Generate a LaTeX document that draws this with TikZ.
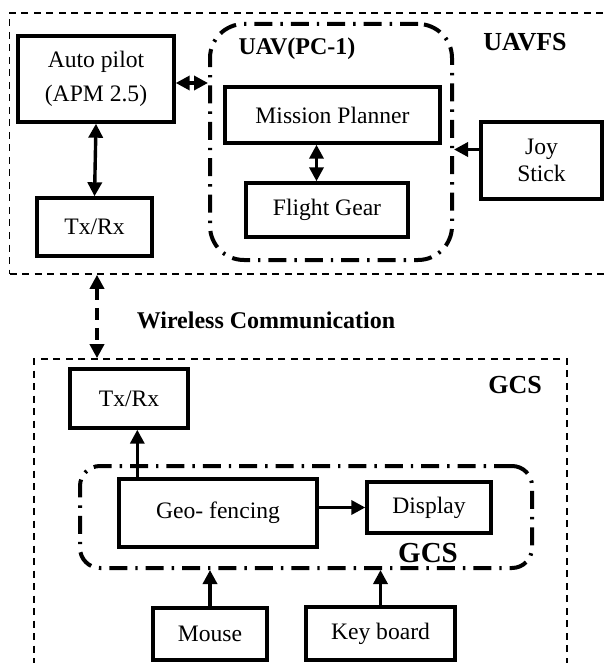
\documentclass[tikz,border=0pt]{standalone}
\usepackage{fontspec}
\setmainfont{Liberation Serif}
\usetikzlibrary{arrows.meta, positioning}

\begin{document}
\begin{tikzpicture}[
        x=0.5pt, y=-0.5pt,
        block/.style={rectangle, draw, line width=1.7pt, align=center, inner sep=0pt, font=\fontsize{11.8}{14}\selectfont},
        zone/.style={rectangle, draw, line width=0.8pt, dash pattern=on 3.5pt off 2.75pt, inner sep=0pt},
        unit/.style={rectangle, draw, line width=2pt, dash pattern=on 9pt off 4pt on 1.2pt off 4pt, inner sep=0pt},
        title/.style={font=\bfseries\fontsize{12}{14}\selectfont},
        arrow/.style={-{Triangle[length=7pt, width=7pt]}, line width=1.7pt},
        dblarrow/.style={{Triangle[length=7pt, width=7pt]}-{Triangle[length=7pt, width=7pt]}, line width=1.7pt}
    ]
        \clip (0,0) rectangle (606,663);

        % UAVFS side
        \node[zone, minimum width=305pt, minimum height=130.5pt] (uavfs) at (314.5,143.5) {};
        \node[title, font=\bfseries\fontsize{13}{15}\selectfont] (uavfslabel) at (525,42) {UAVFS};

        \node[block, minimum width=78pt, minimum height=43pt, font=\fontsize{11.8}{17}\selectfont] (pilot) at (96,79) {Auto pilot\\(APM 2.5)};
        \node[block, minimum width=57.5pt, minimum height=29pt] (txrx1) at (94.5,227) {Tx/Rx};

        \node[unit, rounded corners=17pt, minimum width=121pt, minimum height=118pt] (pc) at (331,142) {};
        \node[title] (pclabel) at (297,49) {UAV(PC-1)};
        \node[block, minimum width=107.5pt, minimum height=28pt] (planner) at (332.5,115) {Mission Planner};
        \node[block, minimum width=81pt, minimum height=27pt] (fgear) at (327,210) {Flight Gear};

        \node[block, minimum width=60.5pt, minimum height=38.5pt, font=\fontsize{11.8}{13.5}\selectfont] (joy) at (541.5,160.5) {Joy\\Stick};

        \draw[dblarrow] (pilot.south) -- (txrx1.north);
        \draw[dblarrow] ([yshift=-2pt]pilot.east) -- ([yshift=-2pt]pilot.east -| pc.west);
        \draw[dblarrow] ([xshift=-8pt]planner.south) -- ([xshift=-8pt]planner.south |- fgear.north);
        \draw[arrow] ([yshift=5.5pt]joy.west) -- ([yshift=5.5pt]joy.west -| pc.east);

        % Link
        \coordinate (wl) at (97,0);
        \node[title] (wireless) at (266,320) {Wireless Communication};

        % GCS side
        \node[zone, minimum width=266.5pt, minimum height=180pt] (gcs) at (300.5,539) {};
        \node[title, font=\bfseries\fontsize{13}{15}\selectfont] (gcslabel) at (515,385) {GCS};

        \draw[dblarrow, dash pattern=on 6pt off 4pt] (wl |- uavfs.south) -- (wl |- gcs.north);

        \node[block, minimum width=59pt, minimum height=29.5pt] (txrx2) at (129,398.5) {Tx/Rx};

        \node[unit, rounded corners=10pt, minimum width=226pt, minimum height=51pt] (station) at (306,517) {};
        \node[block, minimum width=99pt, minimum height=34pt] (geo) at (218,513) {Geo- fencing};
        \node[block, minimum width=62pt, minimum height=25.5pt] (disp) at (429,507.5) {Display};
        \node[title, font=\bfseries\fontsize{14.5}{16}\selectfont] (stationlabel) at (428,553) {GCS};

        \node[block, minimum width=57pt, minimum height=26pt] (mouse) at (210,634) {Mouse};
        \node[block, minimum width=74.5pt, minimum height=26.5pt] (kbd) at (380.5,633.5) {Key board};

        \draw[arrow] ([xshift=10pt]geo.north west) -- ([xshift=10pt]geo.north west |- txrx2.south);
        \draw[arrow] (geo.east |- disp.west) -- (disp.west);
        \draw[arrow] (mouse.north) -- (mouse.north |- station.south);
        \draw[arrow] (kbd.north) -- (kbd.north |- station.south);

    \end{tikzpicture}
\end{document}
